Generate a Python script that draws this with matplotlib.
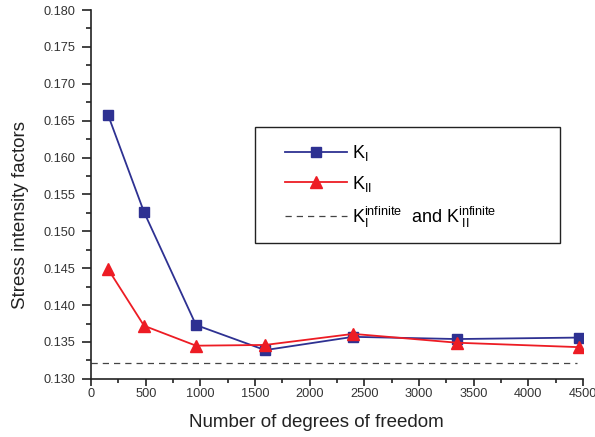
import matplotlib
matplotlib.use("Agg")
import matplotlib.pyplot as plt
from matplotlib.ticker import MultipleLocator, FormatStrFormatter
from matplotlib.patches import Rectangle

plt.rcParams['font.family'] = ['Liberation Sans', 'DejaVu Sans']
plt.rcParams['mathtext.fontset'] = 'custom'
plt.rcParams['mathtext.rm'] = 'Liberation Sans'
plt.rcParams['mathtext.it'] = 'Liberation Sans'

dof = [155, 485, 960, 1592, 2397, 3349, 4465]
k1 = [0.1658, 0.1526, 0.1373, 0.1339, 0.1357, 0.1354, 0.1356]
k2 = [0.1449, 0.1372, 0.1345, 0.1346, 0.1361, 0.1349, 0.1343]
k_inf = 0.1322
k_inf_x = [0, 4440]

fig = plt.figure(figsize=(5.95, 4.37), dpi=100)
ax = fig.add_axes([0.153, 0.133, 0.827, 0.844])

ax.plot(dof, k1, color='#2E3192', marker='s', markersize=7, lw=1.3, label=r'$\mathregular{K_{I}}$')
ax.plot(dof, k2, color='#ED1C24', marker='^', markersize=8, lw=1.3, label=r'$\mathregular{K_{II}}$')
ax.plot(k_inf_x, [k_inf, k_inf], color='#444444', ls=(0, (5, 4)), lw=0.9,
        label=r'$\mathregular{K_{I}^{infinite}\ \ and\ K_{\ II}^{infinite}}$')

ax.set_xlim(0, 4500)
ax.set_ylim(0.130, 0.180)
ax.xaxis.set_major_locator(MultipleLocator(500))
ax.xaxis.set_minor_locator(MultipleLocator(250))
ax.yaxis.set_major_locator(MultipleLocator(0.005))
ax.yaxis.set_minor_locator(MultipleLocator(0.0025))
ax.yaxis.set_major_formatter(FormatStrFormatter('%.3f'))
for s in ['top', 'right']:
    ax.spines[s].set_visible(False)
for s in ['left', 'bottom']:
    ax.spines[s].set_linewidth(1.2)
    ax.spines[s].set_color('#222222')
ax.tick_params(which='both', direction='out', width=1.2, labelsize=9.2,
               colors='#222222', labelcolor='#333333')
ax.tick_params(axis='x', which='major', length=5, pad=1.5)
ax.tick_params(axis='x', which='minor', length=3)
ax.tick_params(axis='y', which='major', length=6.5, pad=5)
ax.tick_params(axis='y', which='minor', length=3.5)
ax.set_xlabel('Number of degrees of freedom', fontsize=13.5, color='#222222')
ax.set_ylabel('Stress intensity factors', fontsize=13.5, color='#222222')
ax.xaxis.set_label_coords(0.457, -0.095)
ax.yaxis.set_label_coords(-0.126, 0.444)

box = Rectangle((0.333, 0.369), 0.62, 0.314, transform=ax.transAxes,
                facecolor='white', edgecolor='#222222', lw=1.0, zorder=4)
ax.add_patch(box)

leg = ax.legend(loc='upper left', bbox_to_anchor=(0.394, 0.640),
                fontsize=13, frameon=False, borderpad=0, borderaxespad=0,
                handlelength=3.43, labelspacing=0.6, handletextpad=0.28)
leg.set_zorder(5)

fig.savefig('out.png', dpi=100)
